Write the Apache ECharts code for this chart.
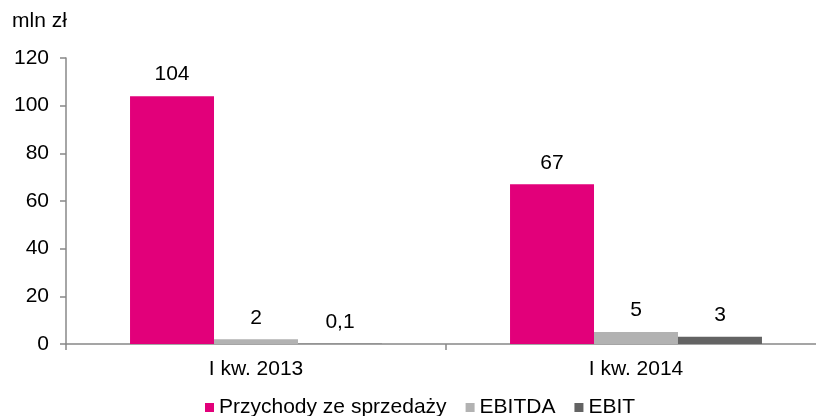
<!DOCTYPE html>
<html>
<head>
<meta charset="utf-8">
<script src="https://cdn.jsdelivr.net/npm/echarts@6/dist/echarts.min.js"></script>
<style>
html,body{margin:0;padding:0;background:#fff;}
#main{width:816px;height:416px;}
</style>
</head>
<body>
<div id="main"></div>
<script>
// dane
var categories = ['I kw. 2013', 'I kw. 2014'];
var przychody = [104, 67];
var ebitda = [2, 5];
var ebit = [0.1, 3];
var yTicks = [0, 20, 40, 60, 80, 100, 120];

function fmt(p){
	return String(p.value).replace('.', ',');
}

function makeSeries(name, data, color){
	return {
		name : name,
		type : 'bar',
		data : data,
		barGap : '0%',
		barCategoryGap : '33.7%',
		itemStyle : { color : color },
		label : {
			show : true,
			position : 'top',
			distance : 11,
			color : '#000',
			fontSize : 21,
			fontFamily : 'Liberation Sans',
			formatter : fmt
		}
	};
}

var option = {
	backgroundColor : '#fff',
	animation : false,
	textStyle : { fontFamily : 'Liberation Sans' },
	grid : { left : 66, width : 760, top : 58, height : 286, outerBoundsMode : 'none', containLabel : false },
	legend : {
		top : 397,
		left : 205,
		padding : 0,
		itemWidth : 9,
		itemHeight : 9,
		itemGap : 19,
		icon : 'rect',
		textStyle : { fontSize : 21, color : '#000', fontFamily : 'Liberation Sans' },
		data : ['Przychody ze sprzedaży', 'EBITDA', 'EBIT']
	},
	xAxis : {
		type : 'category',
		data : categories,
		axisLine : { lineStyle : { color : '#888', width : 1.5 } },
		axisTick : { show : true, length : 6, lineStyle : { color : '#888', width : 1.5 } },
		axisLabel : { fontSize : 21, color : '#000', margin : 15 }
	},
	yAxis : {
		type : 'value',
		min : 0,
		max : 120,
		interval : 20,
		name : 'mln zł',
		nameLocation : 'end',
		nameGap : 26,
		nameTextStyle : { fontSize : 21, color : '#000', align : 'left', padding : [0,0,0,-54] },
		axisLine : { show : true, lineStyle : { color : '#888', width : 1.5 } },
		axisTick : { show : true, length : 6, lineStyle : { color : '#888', width : 1.5 } },
		splitLine : { show : false },
		axisLabel : { fontSize : 21, color : '#000', margin : 17,
			formatter : function(v){ return yTicks.indexOf(v) >= 0 ? String(v) : ''; } }
	},
	series : [
		makeSeries('Przychody ze sprzedaży', przychody, '#E2007A'),
		makeSeries('EBITDA', ebitda, '#B2B2B2'),
		makeSeries('EBIT', ebit, '#636363')
	]
};

var myChart = echarts.init(document.getElementById('main'));
myChart.setOption(option);
</script>
</body>
</html>
